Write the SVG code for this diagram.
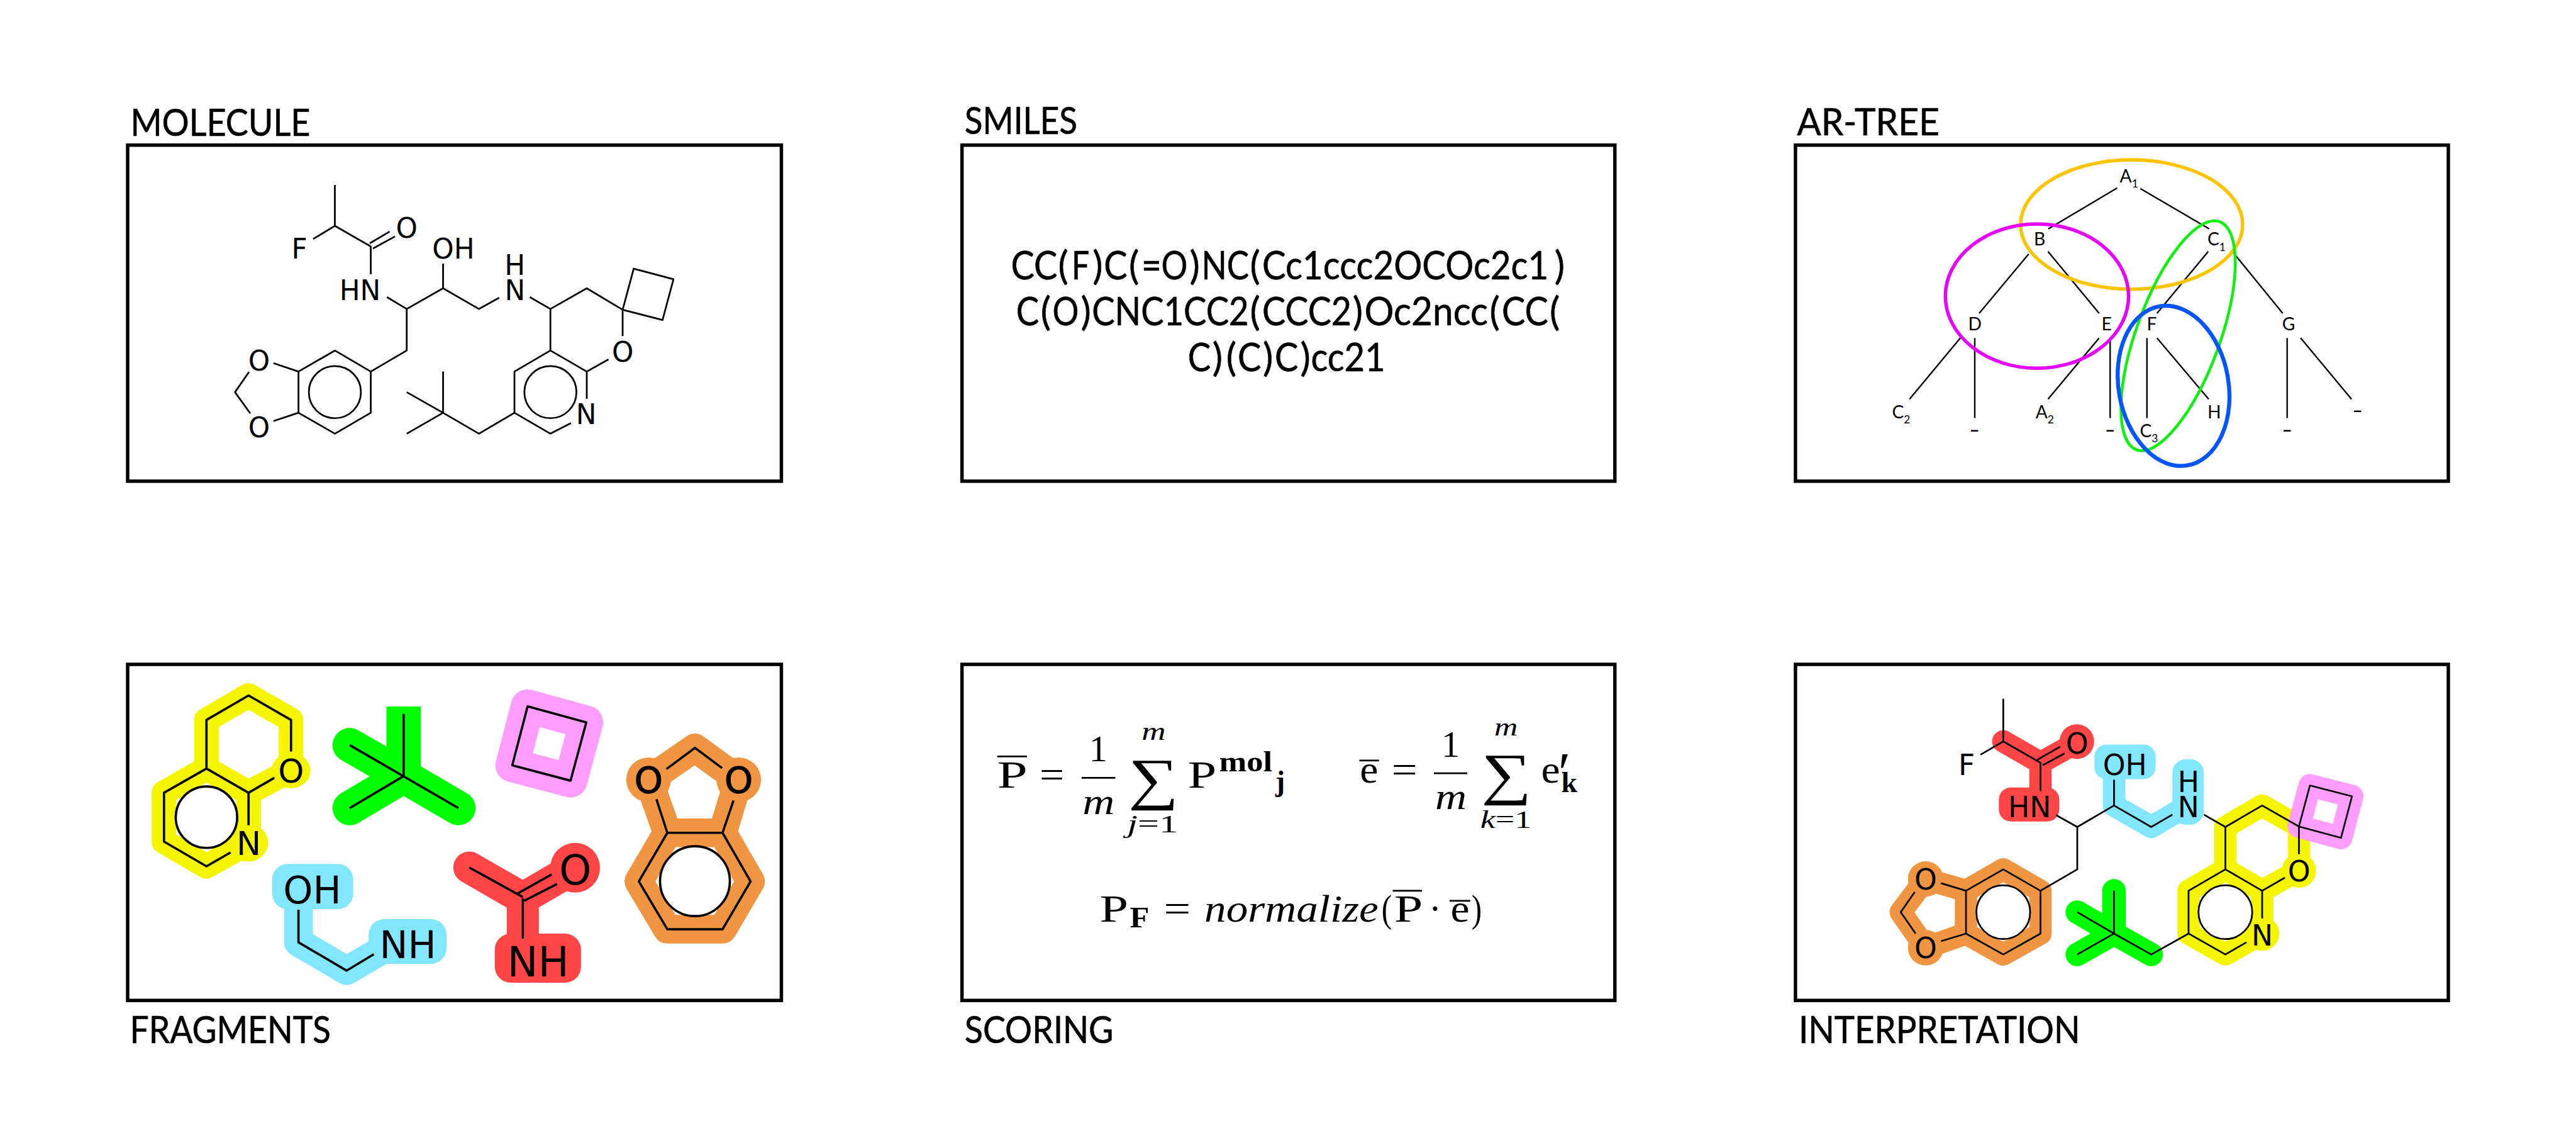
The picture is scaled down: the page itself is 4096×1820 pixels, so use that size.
<svg xmlns="http://www.w3.org/2000/svg" width="4096" height="1820" viewBox="0 0 4096 1820">
<defs><style>
.box{fill:none;stroke:#000;stroke-width:6;stroke-linejoin:miter}
.lab{font-family:Lato,"Open Sans","Liberation Sans",sans-serif;fill:#000}
.h1{font-size:65px;stroke:#000;stroke-width:.7}
.sm{font-size:67px;stroke:#000;stroke-width:.7}
.tr{font-size:31px;text-anchor:middle}
.ts{font-size:19px}
.das{font-weight:bold}
.b3{fill:none;stroke:#000;stroke-width:3;stroke-linecap:butt;stroke-linejoin:round}
.b4{fill:none;stroke:#000;stroke-width:4;stroke-linecap:butt;stroke-linejoin:round}
.t1{fill:none;stroke:#000;stroke-width:2.6}
.at{font-family:"DejaVu Sans",sans-serif;fill:#000;text-anchor:middle}
.a48{font-size:48px}.a50{font-size:50px}.a57{font-size:57.5px}.a63{font-size:63px;stroke:#000;stroke-width:1.5}.a66{font-size:66px}.a72{font-size:72px}
.hl{fill:none;stroke-linecap:round;stroke-linejoin:round}
.y{stroke:#f5f500}.yf{fill:#f5f500}
.g{stroke:#00ff00}
.p{stroke:#ff9eff}
.c{stroke:#82e6ff}.cf{fill:#82e6ff}
.r{stroke:#ff4545}.rf{fill:#ff4545}
.o{stroke:#f09642}.of{fill:#f09642}
.m{font-family:"Liberation Serif",serif;fill:#000}
.m67{font-size:67px}.m64{font-size:64px}.m45{font-size:45px}.m50{font-size:50px}
.i{font-style:italic}.bd{font-weight:bold}.n{font-style:normal}
.bar{stroke:#000;stroke-width:3;fill:none}
</style></defs>
<rect width="4096" height="1820" fill="#fff"/>
<g transform="scale(0.91022 0.91)">

<g id="molecule">
<text class="lab h1" x="228" y="237" textLength="314" lengthAdjust="spacingAndGlyphs">MOLECULE</text>
<rect class="box" x="223" y="253.5" width="1142" height="587"/>
<path class="b3" d="M585 323V394.5L547 417.5M585 394.5L647.7 430.5V479M646 425L680.6 404.6M651.5 434L690 413M676 519L710.5 539.7L774 503.6V460.5M774 503.6L836.7 539.7L872 520M925.5 519L961.5 539.7L1025 503.6L1087.7 541L1107 469.3L1176.5 487.7L1157.4 559L1087.7 541V587M961.5 539.7V612.3L1025 649V696.8M1025 649L1063 627.7M997.5 739L961.5 757.5L898.7 721V649L961.5 612.3M898.7 721L836.7 757.5L774 721V649M774 721L710.5 685M774 721L710.5 757.5M710.5 539.7V612.3L647.7 649V721L585 757.5L521.4 721V649L585 612.3L647.7 649M521.4 649L477.8 634.3M521.4 721L477.8 735.5M435 649.7L410.5 685L437.3 722.3"/>
<circle class="b3" cx="961.5" cy="685" r="45.5"/>
<circle class="b3" cx="585" cy="685" r="45.5"/>
<text class="at a48" x="523" y="452">F</text>
<text class="at a48" x="710.5" y="415">O</text>
<text class="at a48" x="629" y="524">HN</text>
<text class="at a48" x="792" y="452">OH</text>
<text class="at a48" x="899.5" y="480">H</text>
<text class="at a48" x="899.5" y="524">N</text>
<text class="at a48" x="1088" y="632">O</text>
<text class="at a48" x="1024" y="741">N</text>
<text class="at a48" x="452.5" y="647">O</text>
<text class="at a48" x="452.5" y="764">O</text>
</g>

<g id="smiles">
<text class="lab h1" x="1685" y="234" textLength="197" lengthAdjust="spacingAndGlyphs">SMILES</text>
<rect class="box" x="1680.5" y="253.5" width="1140.5" height="587"/>
<text class="lab sm" y="487.5"><tspan x="1766" textLength="81" lengthAdjust="spacingAndGlyphs">CC</tspan><tspan x="1848.5">(</tspan><tspan x="1872" textLength="31" lengthAdjust="spacingAndGlyphs">F</tspan><tspan x="1908.5">)</tspan><tspan x="1928.5" textLength="41" lengthAdjust="spacingAndGlyphs">C</tspan><tspan x="1972">(</tspan><tspan x="1994" textLength="35" lengthAdjust="spacingAndGlyphs">=</tspan><tspan x="2028.5" textLength="46" lengthAdjust="spacingAndGlyphs">O</tspan><tspan x="2078">)</tspan><tspan x="2099" textLength="83" lengthAdjust="spacingAndGlyphs">NC</tspan><tspan x="2183.5">(</tspan><tspan x="2205" textLength="500" lengthAdjust="spacingAndGlyphs">Cc1ccc2OCOc2c1</tspan><tspan x="2715.5">)</tspan></text>
<text class="lab sm" y="568"><tspan x="1775" textLength="40" lengthAdjust="spacingAndGlyphs">C</tspan><tspan x="1818">(</tspan><tspan x="1838.5" textLength="46" lengthAdjust="spacingAndGlyphs">O</tspan><tspan x="1888">)</tspan><tspan x="1907.5" textLength="274" lengthAdjust="spacingAndGlyphs">CNC1CC2</tspan><tspan x="2183.5">(</tspan><tspan x="2205" textLength="156" lengthAdjust="spacingAndGlyphs">CCC2</tspan><tspan x="2363">)</tspan><tspan x="2383.5" textLength="216" lengthAdjust="spacingAndGlyphs">Oc2ncc</tspan><tspan x="2602">(</tspan><tspan x="2623.5" textLength="81" lengthAdjust="spacingAndGlyphs">CC</tspan><tspan x="2707">(</tspan></text>
<text class="lab sm" y="648"><tspan x="2075" textLength="40" lengthAdjust="spacingAndGlyphs">C</tspan><tspan x="2118">)</tspan><tspan x="2142">(</tspan><tspan x="2162" textLength="41" lengthAdjust="spacingAndGlyphs">C</tspan><tspan x="2206">)</tspan><tspan x="2227" textLength="41" lengthAdjust="spacingAndGlyphs">C</tspan><tspan x="2271.5">)</tspan><tspan x="2290" textLength="130" lengthAdjust="spacingAndGlyphs">cc21</tspan></text>
</g>

<g id="ar-tree">
<text class="lab h1" x="3139" y="236" textLength="249" lengthAdjust="spacingAndGlyphs">AR-TREE</text>
<rect class="box" x="3136.5" y="253.5" width="1140.5" height="587"/>
<g id="tree-edges">
<path class="t1" d="M3698.5 328.4L3578.3 399.7M3739 329.3L3859.2 399.7M3543.9 443.7L3457.4 547.2M3577.6 439.3L3667 547.2M3857.6 439.3L3768 547.2M3899.7 439.3L3987.7 547.2M3424.5 590.3L3335.7 697.2M3449.7 590.3V730.2M3667 590.3L3577.6 697.2M3686.2 590.3V730.2M3750.5 590.3V730.2M3768 590.3L3858.4 697.2M3995.4 590.3V730.2M4019 590.3L4107.9 697.2"/>
</g>
<text class="lab tr" x="3719" y="318.5">A<tspan class="ts" dy="9">1</tspan></text>
<text class="lab tr" x="3563" y="429">B</text>
<text class="lab tr" x="3872" y="429">C<tspan class="ts" dy="9">1</tspan></text>
<text class="lab tr" x="3450" y="577">D</text>
<text class="lab tr" x="3680" y="577">E</text>
<text class="lab tr" x="3759" y="577">F</text>
<text class="lab tr" x="3998" y="577">G</text>
<text class="lab tr" x="3321" y="731">C<tspan class="ts" dy="9">2</tspan></text>
<text class="lab tr" x="3572" y="731">A<tspan class="ts" dy="9">2</tspan></text>
<text class="lab tr" x="3754" y="764">C<tspan class="ts" dy="9">3</tspan></text>
<text class="lab tr" x="3868" y="731">H</text>
<text class="lab tr das" x="3449.5" y="761">–</text>
<text class="lab tr das" x="3686" y="761">–</text>
<text class="lab tr das" x="3995.5" y="761">–</text>
<text class="lab tr das" x="4118.5" y="727">–</text>
<ellipse cx="3723.7" cy="392.2" rx="194" ry="113" fill="none" stroke="#ffc400" stroke-width="6"/>
<ellipse cx="3558.4" cy="517.2" rx="160" ry="126" fill="none" stroke="#e800ff" stroke-width="6"/>
<ellipse cx="3805" cy="586.5" rx="73" ry="212" transform="rotate(20 3805 586.5)" fill="none" stroke="#10f010" stroke-width="5"/>
<ellipse cx="3797" cy="674" rx="96" ry="141" transform="rotate(-10 3797 674)" fill="none" stroke="#0055ff" stroke-width="7"/>
</g>

<g id="fragments">
<text class="lab h1" x="227" y="1822" textLength="351" lengthAdjust="spacingAndGlyphs">FRAGMENTS</text>
<rect class="box" x="223" y="1160.5" width="1142" height="587"/>
<g id="frag-yellow">
<path class="hl y" stroke-width="43" d="M360.7 1342.4V1257.5L434.2 1214.8L508.4 1257.5V1345L434.2 1384.7L360.7 1342.4L286.5 1384.7V1470L360.7 1513.2L434.2 1472V1384.7"/>
<ellipse class="yf" cx="508.4" cy="1346" rx="34" ry="31"/>
<ellipse class="yf" cx="434.2" cy="1472" rx="34" ry="33"/>
<circle cx="360.7" cy="1427.4" r="53.7" fill="#fff"/>
<path class="b4" d="M508.4 1312.5V1257.5L434.2 1214.8L360.7 1257.5V1342.4L434.2 1384.7L479.3 1358.7M434.2 1384.7V1441.5M360.7 1342.4L286.5 1384.7V1470L360.7 1513.2L402.8 1489"/>
<circle class="b4" cx="360.7" cy="1427.4" r="53.7"/>
<text class="at a57" x="508.4" y="1366.5">O</text>
<text class="at a57" x="434.5" y="1493.5">N</text>
</g>
<g id="frag-green">
<path class="hl g" stroke-width="60" d="M611 1301.5L705.1 1355.7L800.8 1411.5M611 1411.5L705.1 1355.7"/>
<path stroke="#00ff00" fill="none" stroke-width="60" d="M705.1 1234V1360"/>
<path class="b4" d="M705.1 1247V1355.7M611 1301.5L800.8 1411.5M611 1411.5L705.1 1355.7"/>
</g>
<g id="frag-pink">
<path class="hl p" stroke-width="59" d="M921.7 1233.7L1024.2 1261.9L996.7 1363.6L894.9 1336.7Z"/>
<path class="b4" d="M921.7 1233.7L1024.2 1261.9L996.7 1363.6L894.9 1336.7Z"/>
</g>
<g id="frag-orange">
<path class="hl o" stroke-width="50" d="M1132.9 1362L1214 1306.4L1290.5 1362L1262.2 1454.7H1165.8L1132.9 1362M1165.8 1454.7L1116 1539.6L1165.8 1623.2H1262.2L1311.2 1539.6L1262.2 1454.7"/>
<circle class="of" cx="1133" cy="1362" r="39"/>
<circle class="of" cx="1290.5" cy="1362" r="39"/>
<circle cx="1214" cy="1539.2" r="61" fill="#fff"/>
<path class="b4" d="M1164.3 1343.3L1214 1306.4L1261.4 1341.6M1146.7 1396L1165.8 1454.7H1262.2L1281.4 1398.3M1165.8 1454.7L1116 1539.6L1165.8 1623.2H1262.2L1311.2 1539.6L1262.2 1454.7"/>
<circle class="b4" cx="1214" cy="1539.2" r="61"/>
<text class="at a63" x="1133" y="1386">O</text>
<text class="at a63" x="1290.5" y="1386">O</text>
</g>
<g id="frag-cyan">
<path class="hl c" stroke-width="50" stroke-linecap="butt" d="M521.4 1580V1646L605.6 1695.4L680 1652"/>
<rect class="cf" x="475.5" y="1509" width="141.5" height="79" rx="27"/>
<rect class="cf" x="644" y="1605.5" width="136" height="78" rx="27"/>
<path class="b4" d="M521.4 1589V1646L605.6 1695.4L653 1666.8"/>
<text class="at a66" x="545.5" y="1578">OH</text>
<text class="at a66" x="712.5" y="1674">NH</text>
</g>
<g id="frag-red">
<path class="hl r" stroke-width="56" d="M819.9 1515.4L913.3 1569L1004.7 1516M913.3 1569V1650"/>
<circle class="rf" cx="1004.7" cy="1515.7" r="43.5"/>
<rect class="rf" x="864.3" y="1630.7" width="150.7" height="85.8" rx="28"/>
<path class="b4" d="M819.9 1515.4L913.3 1566.9M902.5 1561.6L963.8 1527.3M915.6 1573.5L973 1544M913.3 1569V1639.5"/>
<text class="at a72" x="1005" y="1545">O</text>
<text class="at a72" x="940" y="1705.5">NH</text>
</g>
</g>

<g id="scoring">
<text class="lab h1" x="1685" y="1822" textLength="260" lengthAdjust="spacingAndGlyphs">SCORING</text>
<rect class="box" x="1680.5" y="1160.5" width="1140.5" height="587"/>
<text class="m m67" x="1742" y="1375.5" textLength="53" lengthAdjust="spacingAndGlyphs">P</text>
<path class="bar" d="M1742 1321.3H1794"/>
<text class="m m67" x="1816" y="1375.5" textLength="43" lengthAdjust="spacingAndGlyphs">=</text>
<text class="m m64" x="1918.6" y="1330" text-anchor="middle">1</text>
<path class="bar" d="M1889.5 1358.7H1948.5"/>
<text class="m m64 i" x="1891" y="1421.7" textLength="56" lengthAdjust="spacingAndGlyphs">m</text>
<text class="m" x="1971" y="1394" font-size="100" textLength="88" lengthAdjust="spacingAndGlyphs">∑</text>
<text class="m m45 i" x="1994.4" y="1291.8" textLength="42" lengthAdjust="spacingAndGlyphs">m</text>
<text class="m m45 i" x="1969" y="1453.8" textLength="89" lengthAdjust="spacingAndGlyphs">j<tspan class="n">=1</tspan></text>
<text class="m m67" x="2075" y="1375.5" textLength="50" lengthAdjust="spacingAndGlyphs">P</text>
<text class="m m50 bd" x="2129.8" y="1347.7" textLength="93" lengthAdjust="spacingAndGlyphs">mol</text>
<text class="m m50 bd" x="2228" y="1381">j</text>
<text class="m m67" x="2375.5" y="1366.6" textLength="32" lengthAdjust="spacingAndGlyphs">e</text>
<path class="bar" d="M2374.7 1328.4H2409"/>
<text class="m m67" x="2431" y="1366.6" textLength="45" lengthAdjust="spacingAndGlyphs">=</text>
<text class="m m64" x="2534" y="1321.8" text-anchor="middle">1</text>
<path class="bar" d="M2504.8 1350.8H2563"/>
<text class="m m64 i" x="2507" y="1412.9" textLength="55" lengthAdjust="spacingAndGlyphs">m</text>
<text class="m" x="2587.5" y="1386" font-size="100" textLength="88" lengthAdjust="spacingAndGlyphs">∑</text>
<text class="m m45 i" x="2610.4" y="1284.4" textLength="41" lengthAdjust="spacingAndGlyphs">m</text>
<text class="m m45 i" x="2586" y="1446.7" textLength="89.5" lengthAdjust="spacingAndGlyphs">k<tspan class="n">=1</tspan></text>
<text class="m m67" x="2692.3" y="1366.6" textLength="33" lengthAdjust="spacingAndGlyphs">e</text>
<text class="m" font-size="100" x="2722" y="1383">′</text>
<text class="m m50 bd" x="2727.5" y="1383.4" textLength="28" lengthAdjust="spacingAndGlyphs">k</text>
<text class="m m67" x="1921" y="1610" textLength="50" lengthAdjust="spacingAndGlyphs">P</text>
<text class="m m50 bd" x="1973.7" y="1619.7" textLength="34" lengthAdjust="spacingAndGlyphs">F</text>
<text class="m m67" x="2033" y="1610" textLength="47" lengthAdjust="spacingAndGlyphs">=</text>
<text class="m m67 i" x="2104" y="1610" textLength="304" lengthAdjust="spacingAndGlyphs">normalize</text>
<text class="m m67" x="2413.5" y="1610" textLength="18" lengthAdjust="spacingAndGlyphs">(</text>
<text class="m m67" x="2435.5" y="1610" textLength="50" lengthAdjust="spacingAndGlyphs">P</text>
<path class="bar" d="M2433 1556H2484"/>
<text class="m m67" x="2507" y="1610" text-anchor="middle">·</text>
<text class="m m67" x="2534" y="1610" textLength="33" lengthAdjust="spacingAndGlyphs">e</text>
<path class="bar" d="M2532.4 1573.5H2568.3"/>
<text class="m m67" x="2570.5" y="1610" textLength="18" lengthAdjust="spacingAndGlyphs">)</text>
</g>

<g id="interpretation">
<text class="lab h1" x="3142" y="1822" textLength="492" lengthAdjust="spacingAndGlyphs">INTERPRETATION</text>
<rect class="box" x="3136.5" y="1160.5" width="1140.5" height="587"/>
<g id="int-highlights">
<path class="hl r" stroke-width="39" d="M3499.5 1295L3564.5 1332.3L3628 1297M3564.5 1332.3V1390"/>
<circle class="rf" cx="3628" cy="1295.4" r="30.3"/>
<rect class="rf" x="3491.8" y="1375.5" width="105.6" height="59.4" rx="21"/>
<path class="hl c" stroke-width="39" d="M3693 1355V1407L3758 1444.5L3822 1407"/>
<rect class="cf" x="3658.7" y="1300.6" width="107" height="60.4" rx="21"/>
<rect class="cf" x="3794.9" y="1326" width="55" height="114.6" rx="24"/>
<path class="hl y" stroke-width="39" d="M3887.5 1518.5V1444.5L3951.8 1407L4016 1443.7V1520L3951.8 1555.9L3887.5 1518.5L3823.2 1555.9V1630.7L3887.5 1667.2L3951.8 1630.7V1555.9"/>
<circle class="yf" cx="4016" cy="1520.7" r="30"/>
<circle class="yf" cx="3951.8" cy="1630.7" r="30"/>
<path class="hl p" stroke-width="40" d="M4016 1443.7L4035.2 1372L4108.7 1390.9L4089.5 1463.5Z"/>
<path class="hl g" stroke-width="41" d="M3693 1555.9V1630.7M3628.8 1593.3L3693 1630.7L3758 1667.2M3628.8 1667.2L3693 1630.7"/>
<path class="hl o" stroke-width="39" d="M3499.5 1518.5L3564.5 1555.9V1630.7L3499.5 1667.2L3434.4 1630.7V1555.9ZM3434.4 1555.9L3364 1535.5L3320.4 1593.3L3364 1655.5L3434.4 1630.7"/>
<circle class="of" cx="3364" cy="1535.5" r="31"/>
<circle class="of" cx="3364" cy="1655.5" r="31"/>
<circle cx="3887.5" cy="1593.3" r="47" fill="#fff"/>
<circle cx="3499.5" cy="1593.3" r="47" fill="#fff"/>
</g>
<path class="b3" d="M3499.5 1220.5V1295L3459.7 1318.2M3499.5 1295L3564.5 1332.3V1382M3559 1327L3599 1304.2M3568.4 1336.7L3606.6 1316M3592 1423.9L3628.8 1444.5L3693 1407V1362M3693 1407L3758 1444.5L3794.9 1423M3850 1423L3887.5 1444.5L3951.8 1407L4016 1443.7L4035.2 1372L4108.7 1390.9L4089.5 1463.5L4016 1443.7V1492M3887.5 1444.5V1518.5L3951.8 1555.9V1604.3M3951.8 1555.9L3991.6 1533M3924.2 1646L3887.5 1667.2L3823.2 1630.7V1555.9L3887.5 1518.5M3823.2 1630.7L3758 1667.2L3693 1630.7V1555.9M3693 1630.7L3628.8 1593.3M3693 1630.7L3628.8 1667.2M3628.8 1444.5V1518.5L3564.5 1555.9V1630.7L3499.5 1667.2L3434.4 1630.7V1555.9L3499.5 1518.5L3564.5 1555.9M3434.4 1555.9L3390.8 1542.7M3434.4 1630.7L3390.8 1644M3344.9 1558L3320.4 1593.3L3346.4 1630.7"/>
<circle class="b3" cx="3887.5" cy="1593.3" r="47"/>
<circle class="b3" cx="3499.5" cy="1593.3" r="47"/>
<text class="at a50" x="3435.5" y="1353.5">F</text>
<text class="at a50" x="3628.5" y="1316">O</text>
<text class="at a50" x="3545.5" y="1427">HN</text>
<text class="at a50" x="3712" y="1353.5">OH</text>
<text class="at a50" x="3823" y="1383.5">H</text>
<text class="at a50" x="3823" y="1427.5">N</text>
<text class="at a50" x="4016.3" y="1539.6">O</text>
<text class="at a50" x="3951.8" y="1652">N</text>
<text class="at a50" x="3364" y="1553.7">O</text>
<text class="at a50" x="3364" y="1673.8">O</text>
</g>
</g>
</svg>
